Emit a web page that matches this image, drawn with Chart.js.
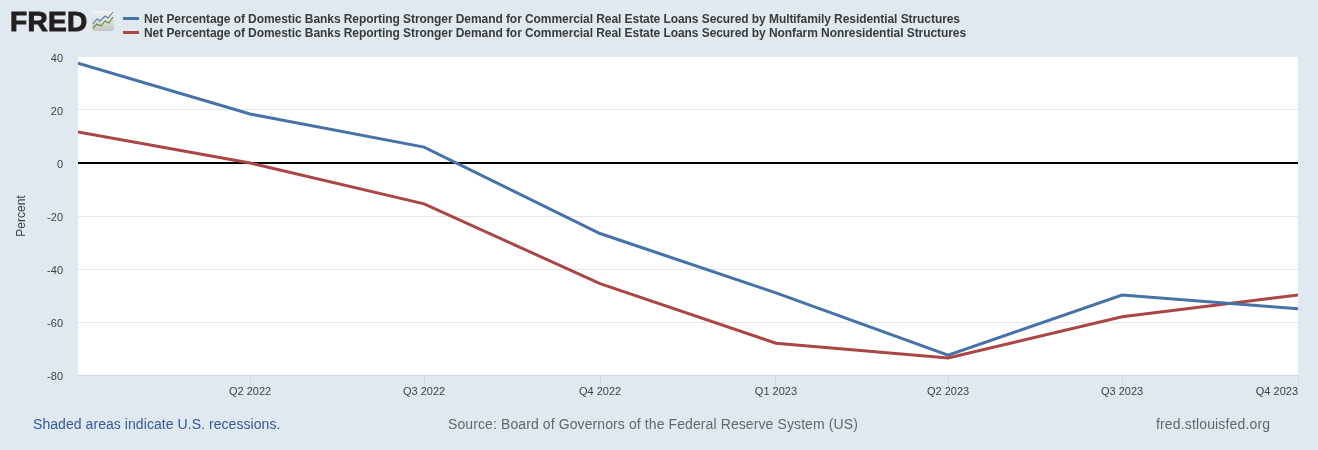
<!DOCTYPE html>
<html>
<head>
<meta charset="utf-8">
<title>FRED</title>
<script src="https://cdn.jsdelivr.net/npm/chart.js@4/dist/chart.umd.min.js"></script>
<style>
  html, body { margin: 0; padding: 0; background: #e1e9f0; }
  #wrap { position: relative; width: 1318px; height: 450px; overflow: hidden; font-family: "Liberation Sans", Arial, sans-serif; }
  #chart { position: absolute; left: 0; top: 0; }
  .abs { position: absolute; white-space: nowrap; }
  #logo { left: 10px; top: 6px; font-size: 28px; line-height: 32px; font-weight: bold; letter-spacing: 0.3px; color: #231f20; -webkit-text-stroke: 1px #231f20; }
  #icon { left: 92px; top: 11px; }
  .legend-row { left: 123px; font-size: 12px; line-height: 14px; font-weight: bold; letter-spacing: -0.07px; color: #3a3a3a; }
  .swatch { position: absolute; left: 0; top: 5px; width: 16px; height: 3px; }
  .legend-row span.txt { margin-left: 21px; }
  .foot { top: 416px; font-size: 14px; line-height: 17px; color: #666; }
</style>
</head>
<body>
<div id="wrap">
  <canvas id="chart" width="1318" height="450"></canvas>
  <div class="abs" id="logo">FRED</div>
  <svg class="abs" id="icon" width="23" height="21" viewBox="0 0 23 21">
    <defs><linearGradient id="g" x1="0" y1="0" x2="0" y2="1"><stop offset="0" stop-color="#f4f4f2"/><stop offset="1" stop-color="#c4c7c4"/></linearGradient></defs>
    <rect width="22" height="20" rx="2" fill="url(#g)"/>
    <polyline points="1,13 5,8 8,10 13,5 16,7 21,1" fill="none" stroke="#4f7fa8" stroke-width="1.1"/>
    <polyline points="1,17 5,13 9,15 13,10 17,12 21,6" fill="none" stroke="#5f9232" stroke-width="1.1"/>
  </svg>
  <div id="legend"></div>
  <div class="abs foot" style="left:33px;color:#31599b;letter-spacing:0.06px">Shaded areas indicate U.S. recessions.</div>
  <div class="abs foot" style="left:448px;letter-spacing:0.1px">Source: Board of Governors of the Federal Reserve System (US)</div>
  <div class="abs foot" style="left:1156px;letter-spacing:0.15px">fred.stlouisfed.org</div>
</div>
<script>
const quarterDates = ['2022-01-01', '2022-04-01', '2022-07-01', '2022-10-01', '2023-01-01', '2023-04-01', '2023-07-01', '2023-10-01'];
const quarterLabels = ['', 'Q2 2022', 'Q3 2022', 'Q4 2022', 'Q1 2023', 'Q2 2023', 'Q3 2023', 'Q4 2023'];
const multifamily = [37.7, 18.5, 6.0, -26.6, -49.0, -72.5, -49.8, -55.0];
const nonresidential = [11.7, 0, -15.4, -45.5, -68.0, -73.6, -58.0, -49.8];
const yTicks = [40, 20, 0, -20, -40, -60, -80];
const multifamilyName = 'Net Percentage of Domestic Banks Reporting Stronger Demand for Commercial Real Estate Loans Secured by Multifamily Residential Structures';
const nonresidentialName = 'Net Percentage of Domestic Banks Reporting Stronger Demand for Commercial Real Estate Loans Secured by Nonfarm Nonresidential Structures';

const xValues = quarterDates.map(d => Date.parse(d + 'T00:00:00Z'));
const toPoints = vals => vals.map((v, i) => ({ x: xValues[i], y: v }));

Chart.defaults.font.family = '"Liberation Sans", Arial, sans-serif';
Chart.defaults.font.size = 11;
Chart.defaults.color = '#3f3f3f';

// white plot background
const plotBackground = {
    id: 'plotBackground',
    beforeDraw(chart) {
        const a = chart.chartArea;
        chart.ctx.fillStyle = '#fff';
        chart.ctx.fillRect(a.left, a.top, a.right - a.left, a.bottom - a.top);
    }
};

const chart = new Chart(document.getElementById('chart'), {
    type: 'line',
    data: {
        datasets: [
            { label: multifamilyName, data: toPoints(multifamily), borderColor: '#4572a7', borderWidth: 3, pointRadius: 0, tension: 0 },
            { label: nonresidentialName, data: toPoints(nonresidential), borderColor: '#aa4643', borderWidth: 3, pointRadius: 0, tension: 0 }
        ]
    },
    options: {
        responsive: false,
        animation: false,
        layout: { padding: { top: 57, right: 20, bottom: 0, left: 0 } },
        plugins: { legend: { display: false }, tooltip: { enabled: false } },
        scales: {
            x: {
                type: 'linear',
                min: xValues[0],
                max: xValues[xValues.length - 1],
                afterBuildTicks: axis => { axis.ticks = xValues.map(v => ({ value: v })); },
                afterFit: axis => { axis.height = 75; },
                grid: {
                    drawOnChartArea: false,
                    tickLength: 10,
                    tickColor: ctx => ctx.index === 0 ? 'transparent' : '#ccd6eb'
                },
                border: { color: '#ccd6eb' },
                ticks: {
                    autoSkip: false,
                    maxRotation: 0,
                    align: 'inner',
                    padding: 0,
                    callback: (v, i) => quarterLabels[i]
                }
            },
            y: {
                min: -80,
                max: 40,
                afterBuildTicks: axis => { axis.ticks = yTicks.map(v => ({ value: v })); },
                afterFit: axis => { axis.width = 78; },
                title: { display: true, text: 'Percent', color: '#3f3f3f', font: { size: 12 }, padding: { top: 14, bottom: 0 } },
                border: { display: false },
                grid: {
                    drawTicks: false,
                    color: ctx => ctx.tick.value === 0 ? '#000' : (ctx.tick.value === 40 ? 'transparent' : '#e6e6e6'),
                    lineWidth: ctx => ctx.tick.value === 0 ? 2 : 1
                },
                ticks: { padding: 15, labelOffset: 2 }
            }
        }
    },
    plugins: [plotBackground]
});

// legend sits beside the logo, built from the datasets
const legendEl = document.getElementById('legend');
chart.data.datasets.forEach((ds, i) => {
    const row = document.createElement('div');
    row.className = 'abs legend-row';
    row.style.top = (12 + i * 14) + 'px';
    const sw = document.createElement('div');
    sw.className = 'swatch';
    sw.style.background = ds.borderColor;
    const txt = document.createElement('span');
    txt.className = 'txt';
    txt.textContent = ds.label;
    row.appendChild(sw);
    row.appendChild(txt);
    legendEl.appendChild(row);
});
</script>
</body>
</html>
